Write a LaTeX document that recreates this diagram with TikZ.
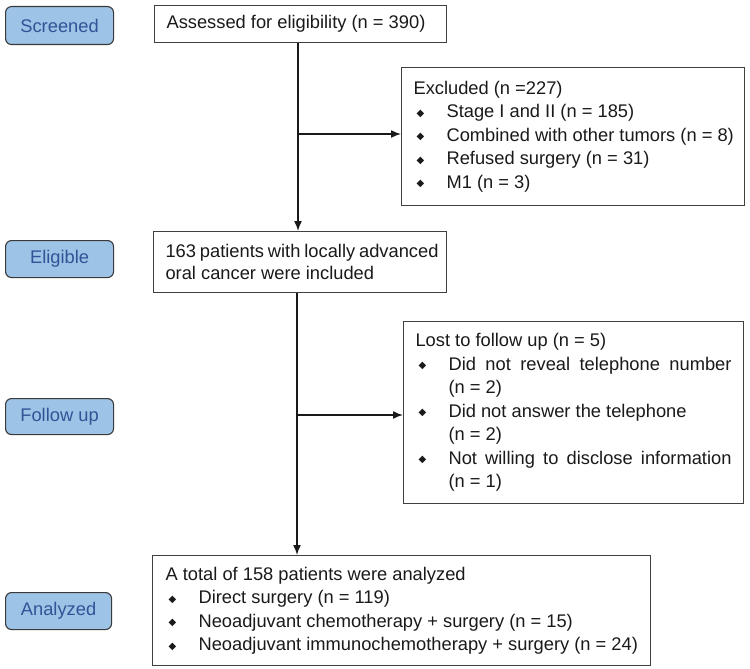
\documentclass[tikz,border=0pt]{standalone}
\usepackage{fontspec}
\setmainfont{Liberation Sans}
\newfontfamily\djv{DejaVu Sans}
\usetikzlibrary{arrows.meta}
\definecolor{lblfill}{HTML}{9DC3E6}
\definecolor{lbltext}{HTML}{2F5597}
\definecolor{lbldraw}{HTML}{3A3A3A}
\definecolor{boxdraw}{HTML}{404040}
\definecolor{txt}{HTML}{1A1A1A}
\newcommand{\nsp}{\spaceskip=0pt\xspaceskip=0pt\relax}
\newcommand{\bul}{\makebox[33pt][l]{\hspace{3pt}\raisebox{1.5pt}{\djv\fontsize{10}{10}\selectfont ◆}}}
\newcommand{\ind}{\hspace*{33pt}}
\newcommand{\jl}[2]{\makebox[#1][s]{\nsp #2}}
\begin{document}
\begin{tikzpicture}[x=1pt,y=-1pt,
  lbl/.style={draw=lbldraw,line width=1.1pt,fill=lblfill,rounded corners=6pt,
    text=lbltext,font=\fontsize{18.3}{22}\selectfont,anchor=north west,inner sep=0pt},
  fbox/.style={draw=boxdraw,line width=1.1pt,fill=white,anchor=north west,
    inner xsep=12pt,inner ysep=0pt,align=left,text=txt,
    font=\fontsize{18.3}{23.5}\selectfont},
  conn/.style={line width=1.5pt,draw=black!90},
  arr/.style={conn,-{Latex[length=10pt,width=8pt]}}]
\useasboundingbox (0,0) rectangle (750,669);

% stage labels
\node[lbl,minimum width=108pt,minimum height=38pt] (screened) at (5,6) {Screened};
\node[lbl,minimum width=108pt,minimum height=37pt] (eligible) at (5,240) {Eligible};
\node[lbl,minimum width=108pt,minimum height=36pt] (follow) at (5,398) {Follow up};
\node[lbl,minimum width=106pt,minimum height=37pt] (analyzed) at (5,592) {Analyzed};

% flow boxes
\node[fbox,text width=268pt,minimum height=37pt] (assess) at (154,5)
  {\nsp Assessed for eligibility (n = 390)};

\node[fbox,text width=319pt,minimum height=138pt] (excl) at (401,67)
  {\nsp Excluded (n =227)\\
   \bul\mbox{\nsp Stage I and II (n = 185)}\\
   \bul\mbox{\nsp Combined with other tumors (n = 8)}\\
   \bul\mbox{\nsp Refused surgery (n = 31)}\\
   \bul\mbox{\nsp M1 (n = 3)}};

\node[fbox,text width=269pt,minimum height=61pt,font=\fontsize{18.3}{22}\selectfont] (incl) at (153,231)
  {\jl{273pt}{163 patients with locally advanced}\\
   \nsp oral cancer were included};

\node[fbox,text width=316pt,minimum height=182pt] (lost) at (403,321)
  {\nsp Lost to follow up (n = 5)\\
   \bul\jl{283pt}{Did not reveal telephone number}\\
   \ind (n = 2)\\
   \bul\mbox{\nsp Did not answer the telephone}\\
   \ind (n = 2)\\
   \bul\jl{283pt}{Not willing to disclose information}\\
   \ind (n = 1)};

\node[fbox,inner xsep=13pt,text width=472pt,minimum height=110pt] (anal) at (152,555)
  {\nsp A total of 158 patients were analyzed\\
   \bul\mbox{\nsp Direct surgery (n = 119)}\\
   \bul\mbox{\nsp Neoadjuvant chemotherapy + surgery (n = 15)}\\
   \bul\mbox{\nsp Neoadjuvant immunochemotherapy + surgery (n = 24)}};

% connectors
\coordinate (j1) at (298,134);
\coordinate (j2) at (297,415);
\draw[arr] (assess.south -| j1) -- (incl.north -| j1);
\draw[arr] (j1) -- (j1 -| excl.west);
\draw[arr] (incl.south -| j2) -- (anal.north -| j2);
\draw[arr] (j2) -- (j2 -| lost.west);
\end{tikzpicture}
\end{document}
